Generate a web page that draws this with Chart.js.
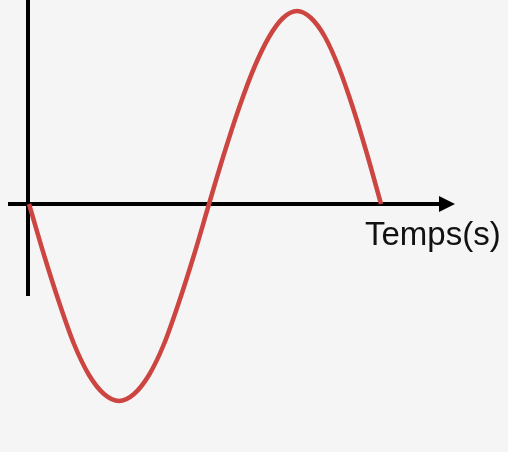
<!DOCTYPE html>
<html>
<head>
<meta charset="utf-8">
<script src="https://cdn.jsdelivr.net/npm/chart.js@4.4.0/dist/chart.umd.min.js"></script>
<style>
  html, body { margin: 0; padding: 0; background: #f5f5f5; }
  #wrap { width: 508px; height: 452px; }
</style>
</head>
<body>
<div id="wrap"><canvas id="chart" width="508" height="452"></canvas></div>
<script>
// time values (arbitrary units) and signal values
const times = [0, 0.75, 1.5, 2.25, 3, 3.75, 4.5, 5.25, 6, 6.75, 7.5, 8.25, 9,
               9.75, 10.5, 11.25, 12, 12.7, 13.4, 14.1, 14.8, 15.5, 16.2, 16.9, 17.6];
const signal = [0, -0.255, -0.49, -0.70, -0.855, -0.95, -0.985, -0.95, -0.855, -0.70, -0.49, -0.255, 0,
                0.25, 0.48, 0.68, 0.835, 0.93, 0.965, 0.93, 0.835, 0.68, 0.48, 0.25, 0];
const axisLabel = 'Temps(s)';

const points = times.map((t, i) => ({ x: t, y: signal[i] }));

// draws the two axes, the arrow head and the axis title
const axesPlugin = {
    id: 'axes',
    beforeDatasetsDraw(chart) {
        const ctx = chart.ctx;
        const xs = chart.scales.x, ys = chart.scales.y;
        const x0 = xs.getPixelForValue(0) - 1;
        const y0 = ys.getPixelForValue(0);
        ctx.save();
        ctx.strokeStyle = '#000';
        ctx.fillStyle = '#000';
        ctx.lineWidth = 4;
        // vertical axis
        ctx.beginPath();
        ctx.moveTo(x0, 0);
        ctx.lineTo(x0, ys.getPixelForValue(-0.46));
        ctx.stroke();
        // horizontal axis
        const xStart = xs.getPixelForValue(-1.05);
        const xTip = xs.getPixelForValue(21.3);
        ctx.beginPath();
        ctx.moveTo(xStart, y0);
        ctx.lineTo(xTip - 14, y0);
        ctx.stroke();
        ctx.beginPath();
        ctx.moveTo(xTip, y0);
        ctx.lineTo(xTip - 16, y0 - 8);
        ctx.lineTo(xTip - 16, y0 + 8);
        ctx.closePath();
        ctx.fill();
        // title
        ctx.font = '33px "Liberation Sans", Arial, sans-serif';
        ctx.fillStyle = '#111';
        ctx.textBaseline = 'alphabetic';
        ctx.fillText(axisLabel, xs.getPixelForValue(16.8), ys.getPixelForValue(-0.205));
        ctx.restore();
    }
};

new Chart(document.getElementById('chart'), {
    type: 'line',
    data: {
        datasets: [{
            data: points,
            borderColor: '#cc4540',
            borderWidth: 4.5,
            pointRadius: 0,
            cubicInterpolationMode: 'monotone',
            fill: false,
            clip: false
        }]
    },
    options: {
        responsive: false,
        animation: false,
        layout: { padding: 0 },
        plugins: { legend: { display: false }, tooltip: { enabled: false } },
        scales: {
            x: { type: 'linear', min: -1.45, max: 23.95, display: false },
            y: { type: 'linear', min: -1.24, max: 1.02, display: false }
        }
    },
    plugins: [axesPlugin]
});
</script>
</body>
</html>
